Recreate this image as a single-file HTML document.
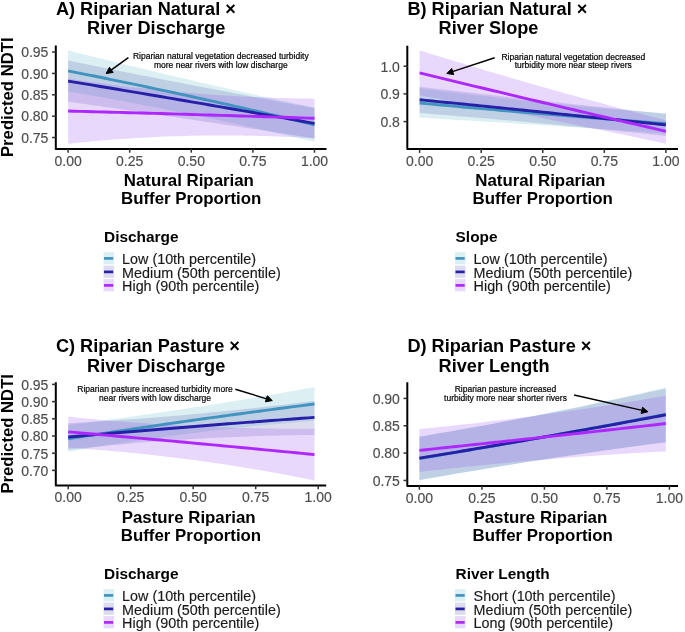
<!DOCTYPE html>
<html><head><meta charset="utf-8"><style>
html,body{margin:0;padding:0;background:#fff;}
svg{display:block;}
text{font-family:"Liberation Sans", Arial, Helvetica, sans-serif;}
.ti{font-size:18.15px;font-weight:bold;fill:#000;}
.xt{font-size:16.85px;font-weight:bold;fill:#000;}
.yt{font-size:16.7px;font-weight:bold;fill:#000;}
.tk{font-size:14px;fill:#4D4D4D;stroke:#4D4D4D;stroke-width:0.15px;}
.an{font-size:8.5px;fill:#000;stroke:#000;stroke-width:0.2px;}
.lt{font-size:15.4px;font-weight:bold;fill:#000;}
.ll{font-size:14.35px;fill:#1A1A1A;stroke:#1A1A1A;stroke-width:0.15px;}
</style></head><body>
<svg width="685" height="632" viewBox="0 0 685 632">
<rect width="685" height="632" fill="#fff"/>
<path d="M68.1 50.35 L74.26 51.91 L80.42 53.46 L86.58 55 L92.74 56.54 L98.9 58.07 L105.06 59.6 L111.22 61.11 L117.38 62.63 L123.54 64.13 L129.7 65.63 L135.86 67.12 L142.02 68.61 L148.18 70.09 L154.34 71.56 L160.5 73.03 L166.66 74.49 L172.82 75.94 L178.98 77.39 L185.14 78.83 L191.3 80.27 L197.46 81.7 L203.62 83.12 L209.78 84.53 L215.94 85.94 L222.1 87.35 L228.26 88.74 L234.42 90.13 L240.58 91.52 L246.74 92.89 L252.9 94.27 L259.06 95.63 L265.22 96.99 L271.38 98.34 L277.54 99.69 L283.7 101.02 L289.86 102.36 L296.02 103.68 L302.18 105 L308.34 106.32 L314.5 107.62 L314.5 141.81 L308.34 140.34 L302.18 138.89 L296.02 137.44 L289.86 136 L283.7 134.57 L277.54 133.16 L271.38 131.75 L265.22 130.36 L259.06 128.98 L252.9 127.6 L246.74 126.24 L240.58 124.89 L234.42 123.55 L228.26 122.22 L222.1 120.9 L215.94 119.59 L209.78 118.29 L203.62 117 L197.46 115.73 L191.3 114.46 L185.14 113.2 L178.98 111.96 L172.82 110.73 L166.66 109.5 L160.5 108.29 L154.34 107.09 L148.18 105.9 L142.02 104.72 L135.86 103.55 L129.7 102.39 L123.54 101.24 L117.38 100.1 L111.22 98.97 L105.06 97.86 L98.9 96.75 L92.74 95.65 L86.58 94.57 L80.42 93.5 L74.26 92.43 L68.1 91.38Z" fill="rgb(80,180,195)" fill-opacity="0.2"/>
<path d="M68.1 60.61 L74.26 61.86 L80.42 63.1 L86.58 64.34 L92.74 65.58 L98.9 66.82 L105.06 68.05 L111.22 69.28 L117.38 70.51 L123.54 71.73 L129.7 72.95 L135.86 74.17 L142.02 75.38 L148.18 76.59 L154.34 77.8 L160.5 79 L166.66 80.2 L172.82 81.4 L178.98 82.59 L185.14 83.78 L191.3 84.97 L197.46 86.15 L203.62 87.34 L209.78 88.51 L215.94 89.69 L222.1 90.86 L228.26 92.03 L234.42 93.19 L240.58 94.36 L246.74 95.51 L252.9 96.67 L259.06 97.82 L265.22 98.97 L271.38 100.12 L277.54 101.26 L283.7 102.4 L289.86 103.54 L296.02 104.67 L302.18 105.8 L308.34 106.93 L314.5 108.05 L314.5 138.39 L308.34 137.43 L302.18 136.48 L296.02 135.52 L289.86 134.57 L283.7 133.61 L277.54 132.66 L271.38 131.72 L265.22 130.77 L259.06 129.83 L252.9 128.89 L246.74 127.95 L240.58 127.01 L234.42 126.07 L228.26 125.14 L222.1 124.21 L215.94 123.28 L209.78 122.36 L203.62 121.43 L197.46 120.51 L191.3 119.59 L185.14 118.67 L178.98 117.76 L172.82 116.84 L166.66 115.93 L160.5 115.02 L154.34 114.11 L148.18 113.21 L142.02 112.31 L135.86 111.41 L129.7 110.51 L123.54 109.61 L117.38 108.72 L111.22 107.82 L105.06 106.93 L98.9 106.05 L92.74 105.16 L86.58 104.28 L80.42 103.4 L74.26 102.52 L68.1 101.64Z" fill="rgb(80,80,168)" fill-opacity="0.2"/>
<path d="M68.1 78.56 L74.26 79.5 L80.42 80.42 L86.58 81.31 L92.74 82.18 L98.9 83.03 L105.06 83.86 L111.22 84.67 L117.38 85.45 L123.54 86.21 L129.7 86.95 L135.86 87.66 L142.02 88.35 L148.18 89.03 L154.34 89.67 L160.5 90.3 L166.66 90.9 L172.82 91.48 L178.98 92.04 L185.14 92.58 L191.3 93.09 L197.46 93.58 L203.62 94.05 L209.78 94.5 L215.94 94.92 L222.1 95.32 L228.26 95.7 L234.42 96.06 L240.58 96.39 L246.74 96.7 L252.9 96.99 L259.06 97.26 L265.22 97.5 L271.38 97.72 L277.54 97.92 L283.7 98.1 L289.86 98.25 L296.02 98.39 L302.18 98.49 L308.34 98.58 L314.5 98.65 L314.5 138.39 L308.34 138.02 L302.18 137.67 L296.02 137.34 L289.86 137.04 L283.7 136.77 L277.54 136.52 L271.38 136.3 L265.22 136.11 L259.06 135.94 L252.9 135.8 L246.74 135.68 L240.58 135.59 L234.42 135.53 L228.26 135.5 L222.1 135.49 L215.94 135.5 L209.78 135.54 L203.62 135.61 L197.46 135.71 L191.3 135.83 L185.14 135.98 L178.98 136.15 L172.82 136.35 L166.66 136.58 L160.5 136.83 L154.34 137.11 L148.18 137.42 L142.02 137.75 L135.86 138.11 L129.7 138.49 L123.54 138.9 L117.38 139.34 L111.22 139.8 L105.06 140.29 L98.9 140.81 L92.74 141.35 L86.58 141.92 L80.42 142.51 L74.26 143.13 L68.1 143.78Z" fill="rgb(140,65,240)" fill-opacity="0.2"/>
<path d="M68.1 70.87 L74.26 72.09 L80.42 73.31 L86.58 74.55 L92.74 75.79 L98.9 77.04 L105.06 78.29 L111.22 79.55 L117.38 80.82 L123.54 82.09 L129.7 83.37 L135.86 84.65 L142.02 85.94 L148.18 87.24 L154.34 88.55 L160.5 89.86 L166.66 91.18 L172.82 92.5 L178.98 93.83 L185.14 95.17 L191.3 96.51 L197.46 97.86 L203.62 99.22 L209.78 100.58 L215.94 101.95 L222.1 103.32 L228.26 104.7 L234.42 106.09 L240.58 107.49 L246.74 108.89 L252.9 110.29 L259.06 111.71 L265.22 113.13 L271.38 114.55 L277.54 115.99 L283.7 117.43 L289.86 118.87 L296.02 120.32 L302.18 121.78 L308.34 123.25 L314.5 124.72" fill="none" stroke="#4094BF" stroke-width="2.9" stroke-linecap="butt"/>
<path d="M68.1 81.12 L74.26 82.14 L80.42 83.15 L86.58 84.17 L92.74 85.19 L98.9 86.21 L105.06 87.23 L111.22 88.26 L117.38 89.28 L123.54 90.32 L129.7 91.35 L135.86 92.38 L142.02 93.42 L148.18 94.46 L154.34 95.5 L160.5 96.55 L166.66 97.6 L172.82 98.65 L178.98 99.7 L185.14 100.75 L191.3 101.81 L197.46 102.87 L203.62 103.93 L209.78 104.99 L215.94 106.06 L222.1 107.13 L228.26 108.2 L234.42 109.27 L240.58 110.35 L246.74 111.42 L252.9 112.51 L259.06 113.59 L265.22 114.67 L271.38 115.76 L277.54 116.85 L283.7 117.94 L289.86 119.04 L296.02 120.13 L302.18 121.23 L308.34 122.33 L314.5 123.44" fill="none" stroke="#2620A8" stroke-width="2.9" stroke-linecap="butt"/>
<path d="M68.1 111.04 L74.26 111.2 L80.42 111.36 L86.58 111.53 L92.74 111.69 L98.9 111.86 L105.06 112.02 L111.22 112.19 L117.38 112.36 L123.54 112.53 L129.7 112.7 L135.86 112.87 L142.02 113.04 L148.18 113.22 L154.34 113.39 L160.5 113.57 L166.66 113.74 L172.82 113.92 L178.98 114.1 L185.14 114.28 L191.3 114.46 L197.46 114.64 L203.62 114.83 L209.78 115.01 L215.94 115.2 L222.1 115.38 L228.26 115.57 L234.42 115.76 L240.58 115.95 L246.74 116.14 L252.9 116.33 L259.06 116.52 L265.22 116.72 L271.38 116.91 L277.54 117.11 L283.7 117.31 L289.86 117.5 L296.02 117.7 L302.18 117.9 L308.34 118.1 L314.5 118.31" fill="none" stroke="#AE27FF" stroke-width="2.9" stroke-linecap="butt"/>
<path d="M55.8 45.5 V148.9 H326.5" fill="none" stroke="#000" stroke-width="2" stroke-linejoin="round" stroke-linecap="butt"/>
<line x1="52" y1="137.54" x2="55.8" y2="137.54" stroke="#333" stroke-width="1.5"/>
<text x="48.4" y="142.84" class="tk" text-anchor="end">0.75</text>
<line x1="52" y1="116.17" x2="55.8" y2="116.17" stroke="#333" stroke-width="1.5"/>
<text x="48.4" y="121.47" class="tk" text-anchor="end">0.80</text>
<line x1="52" y1="94.8" x2="55.8" y2="94.8" stroke="#333" stroke-width="1.5"/>
<text x="48.4" y="100.1" class="tk" text-anchor="end">0.85</text>
<line x1="52" y1="73.43" x2="55.8" y2="73.43" stroke="#333" stroke-width="1.5"/>
<text x="48.4" y="78.73" class="tk" text-anchor="end">0.90</text>
<line x1="52" y1="52.06" x2="55.8" y2="52.06" stroke="#333" stroke-width="1.5"/>
<text x="48.4" y="57.36" class="tk" text-anchor="end">0.95</text>
<line x1="68.1" y1="148.9" x2="68.1" y2="152.7" stroke="#333" stroke-width="1.5"/>
<text x="68.1" y="165.8" class="tk" text-anchor="middle">0.00</text>
<line x1="129.7" y1="148.9" x2="129.7" y2="152.7" stroke="#333" stroke-width="1.5"/>
<text x="129.7" y="165.8" class="tk" text-anchor="middle">0.25</text>
<line x1="191.3" y1="148.9" x2="191.3" y2="152.7" stroke="#333" stroke-width="1.5"/>
<text x="191.3" y="165.8" class="tk" text-anchor="middle">0.50</text>
<line x1="252.9" y1="148.9" x2="252.9" y2="152.7" stroke="#333" stroke-width="1.5"/>
<text x="252.9" y="165.8" class="tk" text-anchor="middle">0.75</text>
<line x1="314.5" y1="148.9" x2="314.5" y2="152.7" stroke="#333" stroke-width="1.5"/>
<text x="314.5" y="165.8" class="tk" text-anchor="middle">1.00</text>
<text class="yt" transform="translate(13.3 97.2) rotate(-90)" text-anchor="middle">Predicted NDTI</text>
<text class="xt" x="188.85" y="185.5" text-anchor="middle">Natural Riparian</text>
<text class="xt" x="191.15" y="203.6" text-anchor="middle">Buffer Proportion</text>
<text class="ti" x="55.9" y="14.6">A) Riparian Natural ×</text>
<text class="ti" x="87.1" y="34">River Discharge</text>
<text class="an" x="220.8" y="59.1" text-anchor="middle">Riparian natural vegetation decreased turbidity</text>
<text class="an" x="220.8" y="67.9" text-anchor="middle">more near rivers with low discharge</text>
<line x1="128.4" y1="57.6" x2="111.04" y2="70.04" stroke="#000" stroke-width="1.5"/>
<path d="M106.2 73.5 L109.42 67.28 L113.12 72.45 Z" fill="#000" stroke="#000" stroke-width="1" stroke-linejoin="miter"/>
<text class="lt" x="104.1" y="242.1">Discharge</text>
<rect x="103.5" y="252.1" width="10.5" height="12.2" fill="rgb(80,180,195)" fill-opacity="0.2"/>
<line x1="104" y1="258.4" x2="113.2" y2="258.4" stroke="#4094BF" stroke-width="2.7"/>
<text class="ll" x="122.1" y="264.2">Low (10th percentile)</text>
<rect x="103.5" y="265.6" width="10.5" height="12.2" fill="rgb(80,80,168)" fill-opacity="0.2"/>
<line x1="104" y1="271.9" x2="113.2" y2="271.9" stroke="#2620A8" stroke-width="2.7"/>
<text class="ll" x="122.1" y="277.55">Medium (50th percentile)</text>
<rect x="103.5" y="279.1" width="10.5" height="12.2" fill="rgb(140,65,240)" fill-opacity="0.2"/>
<line x1="104" y1="285.4" x2="113.2" y2="285.4" stroke="#AE27FF" stroke-width="2.7"/>
<text class="ll" x="122.1" y="290.9">High (90th percentile)</text>
<path d="M419.6 88.36 L425.76 89.14 L431.92 89.91 L438.07 90.67 L444.23 91.43 L450.39 92.18 L456.55 92.92 L462.7 93.65 L468.86 94.38 L475.02 95.09 L481.18 95.8 L487.33 96.51 L493.49 97.2 L499.65 97.89 L505.81 98.57 L511.96 99.24 L518.12 99.91 L524.28 100.56 L530.44 101.21 L536.59 101.85 L542.75 102.49 L548.91 103.11 L555.07 103.73 L561.22 104.34 L567.38 104.95 L573.54 105.54 L579.7 106.13 L585.85 106.71 L592.01 107.28 L598.17 107.85 L604.33 108.41 L610.48 108.96 L616.64 109.5 L622.8 110.04 L628.96 110.56 L635.11 111.08 L641.27 111.59 L647.43 112.1 L653.59 112.6 L659.74 113.09 L665.9 113.57 L665.9 133.51 L659.74 133.08 L653.59 132.64 L647.43 132.21 L641.27 131.78 L635.11 131.36 L628.96 130.93 L622.8 130.51 L616.64 130.09 L610.48 129.67 L604.33 129.25 L598.17 128.84 L592.01 128.43 L585.85 128.01 L579.7 127.61 L573.54 127.2 L567.38 126.8 L561.22 126.39 L555.07 125.99 L548.91 125.6 L542.75 125.2 L536.59 124.81 L530.44 124.42 L524.28 124.03 L518.12 123.64 L511.96 123.25 L505.81 122.87 L499.65 122.49 L493.49 122.11 L487.33 121.73 L481.18 121.36 L475.02 120.98 L468.86 120.61 L462.7 120.25 L456.55 119.88 L450.39 119.51 L444.23 119.15 L438.07 118.79 L431.92 118.43 L425.76 118.08 L419.6 117.72Z" fill="rgb(80,180,195)" fill-opacity="0.2"/>
<path d="M419.6 86.7 L425.76 87.43 L431.92 88.16 L438.07 88.89 L444.23 89.61 L450.39 90.33 L456.55 91.05 L462.7 91.77 L468.86 92.48 L475.02 93.19 L481.18 93.9 L487.33 94.6 L493.49 95.31 L499.65 96.01 L505.81 96.7 L511.96 97.4 L518.12 98.09 L524.28 98.78 L530.44 99.46 L536.59 100.14 L542.75 100.83 L548.91 101.5 L555.07 102.18 L561.22 102.85 L567.38 103.52 L573.54 104.18 L579.7 104.85 L585.85 105.51 L592.01 106.17 L598.17 106.82 L604.33 107.47 L610.48 108.12 L616.64 108.77 L622.8 109.41 L628.96 110.05 L635.11 110.69 L641.27 111.33 L647.43 111.96 L653.59 112.59 L659.74 113.22 L665.9 113.84 L665.9 136 L659.74 135.33 L653.59 134.67 L647.43 134.01 L641.27 133.36 L635.11 132.71 L628.96 132.06 L622.8 131.42 L616.64 130.79 L610.48 130.15 L604.33 129.53 L598.17 128.91 L592.01 128.29 L585.85 127.68 L579.7 127.07 L573.54 126.47 L567.38 125.88 L561.22 125.29 L555.07 124.7 L548.91 124.12 L542.75 123.54 L536.59 122.97 L530.44 122.4 L524.28 121.84 L518.12 121.28 L511.96 120.73 L505.81 120.18 L499.65 119.63 L493.49 119.1 L487.33 118.56 L481.18 118.03 L475.02 117.51 L468.86 116.99 L462.7 116.48 L456.55 115.97 L450.39 115.46 L444.23 114.96 L438.07 114.47 L431.92 113.98 L425.76 113.49 L419.6 113.01Z" fill="rgb(80,80,168)" fill-opacity="0.2"/>
<path d="M419.6 50.41 L425.76 52.32 L431.92 54.22 L438.07 56.11 L444.23 57.99 L450.39 59.86 L456.55 61.73 L462.7 63.59 L468.86 65.44 L475.02 67.28 L481.18 69.11 L487.33 70.93 L493.49 72.75 L499.65 74.56 L505.81 76.35 L511.96 78.15 L518.12 79.93 L524.28 81.7 L530.44 83.47 L536.59 85.23 L542.75 86.97 L548.91 88.72 L555.07 90.45 L561.22 92.17 L567.38 93.89 L573.54 95.6 L579.7 97.3 L585.85 98.99 L592.01 100.67 L598.17 102.34 L604.33 104.01 L610.48 105.67 L616.64 107.32 L622.8 108.96 L628.96 110.59 L635.11 112.22 L641.27 113.83 L647.43 115.44 L653.59 117.04 L659.74 118.63 L665.9 120.21 L665.9 143.76 L659.74 142.43 L653.59 141.1 L647.43 139.78 L641.27 138.46 L635.11 137.16 L628.96 135.85 L622.8 134.56 L616.64 133.27 L610.48 131.98 L604.33 130.71 L598.17 129.44 L592.01 128.17 L585.85 126.91 L579.7 125.66 L573.54 124.41 L567.38 123.17 L561.22 121.94 L555.07 120.71 L548.91 119.49 L542.75 118.28 L536.59 117.07 L530.44 115.86 L524.28 114.67 L518.12 113.48 L511.96 112.29 L505.81 111.12 L499.65 109.95 L493.49 108.78 L487.33 107.62 L481.18 106.47 L475.02 105.32 L468.86 104.18 L462.7 103.05 L456.55 101.92 L450.39 100.8 L444.23 99.68 L438.07 98.57 L431.92 97.47 L425.76 96.38 L419.6 95.28Z" fill="rgb(140,65,240)" fill-opacity="0.2"/>
<path d="M419.6 103.04 L425.76 103.61 L431.92 104.17 L438.07 104.73 L444.23 105.29 L450.39 105.85 L456.55 106.4 L462.7 106.95 L468.86 107.5 L475.02 108.04 L481.18 108.58 L487.33 109.12 L493.49 109.66 L499.65 110.19 L505.81 110.72 L511.96 111.25 L518.12 111.77 L524.28 112.29 L530.44 112.81 L536.59 113.33 L542.75 113.84 L548.91 114.36 L555.07 114.86 L561.22 115.37 L567.38 115.87 L573.54 116.37 L579.7 116.87 L585.85 117.36 L592.01 117.85 L598.17 118.34 L604.33 118.83 L610.48 119.31 L616.64 119.79 L622.8 120.27 L628.96 120.75 L635.11 121.22 L641.27 121.69 L647.43 122.16 L653.59 122.62 L659.74 123.08 L665.9 123.54" fill="none" stroke="#4094BF" stroke-width="2.9" stroke-linecap="butt"/>
<path d="M419.6 99.72 L425.76 100.33 L431.92 100.95 L438.07 101.57 L444.23 102.19 L450.39 102.81 L456.55 103.43 L462.7 104.05 L468.86 104.67 L475.02 105.29 L481.18 105.91 L487.33 106.54 L493.49 107.16 L499.65 107.79 L505.81 108.41 L511.96 109.04 L518.12 109.67 L524.28 110.29 L530.44 110.92 L536.59 111.55 L542.75 112.18 L548.91 112.81 L555.07 113.44 L561.22 114.08 L567.38 114.71 L573.54 115.34 L579.7 115.98 L585.85 116.61 L592.01 117.25 L598.17 117.88 L604.33 118.52 L610.48 119.16 L616.64 119.79 L622.8 120.43 L628.96 121.07 L635.11 121.71 L641.27 122.35 L647.43 123 L653.59 123.64 L659.74 124.28 L665.9 124.92" fill="none" stroke="#2620A8" stroke-width="2.9" stroke-linecap="butt"/>
<path d="M419.6 72.85 L425.76 74.35 L431.92 75.85 L438.07 77.35 L444.23 78.84 L450.39 80.34 L456.55 81.83 L462.7 83.32 L468.86 84.8 L475.02 86.29 L481.18 87.77 L487.33 89.25 L493.49 90.73 L499.65 92.21 L505.81 93.68 L511.96 95.16 L518.12 96.63 L524.28 98.09 L530.44 99.56 L536.59 101.02 L542.75 102.49 L548.91 103.95 L555.07 105.41 L561.22 106.86 L567.38 108.32 L573.54 109.77 L579.7 111.22 L585.85 112.66 L592.01 114.11 L598.17 115.55 L604.33 116.99 L610.48 118.43 L616.64 119.87 L622.8 121.31 L628.96 122.74 L635.11 124.17 L641.27 125.6 L647.43 127.03 L653.59 128.45 L659.74 129.87 L665.9 131.3" fill="none" stroke="#AE27FF" stroke-width="2.9" stroke-linecap="butt"/>
<path d="M407.3 45.7 V149.1 H678" fill="none" stroke="#000" stroke-width="2" stroke-linejoin="round" stroke-linecap="butt"/>
<line x1="403.5" y1="121.6" x2="407.3" y2="121.6" stroke="#333" stroke-width="1.5"/>
<text x="399.9" y="126.9" class="tk" text-anchor="end">0.8</text>
<line x1="403.5" y1="93.9" x2="407.3" y2="93.9" stroke="#333" stroke-width="1.5"/>
<text x="399.9" y="99.2" class="tk" text-anchor="end">0.9</text>
<line x1="403.5" y1="66.2" x2="407.3" y2="66.2" stroke="#333" stroke-width="1.5"/>
<text x="399.9" y="71.5" class="tk" text-anchor="end">1.0</text>
<line x1="419.6" y1="149.1" x2="419.6" y2="152.9" stroke="#333" stroke-width="1.5"/>
<text x="419.6" y="166" class="tk" text-anchor="middle">0.00</text>
<line x1="481.18" y1="149.1" x2="481.18" y2="152.9" stroke="#333" stroke-width="1.5"/>
<text x="481.18" y="166" class="tk" text-anchor="middle">0.25</text>
<line x1="542.75" y1="149.1" x2="542.75" y2="152.9" stroke="#333" stroke-width="1.5"/>
<text x="542.75" y="166" class="tk" text-anchor="middle">0.50</text>
<line x1="604.33" y1="149.1" x2="604.33" y2="152.9" stroke="#333" stroke-width="1.5"/>
<text x="604.33" y="166" class="tk" text-anchor="middle">0.75</text>
<line x1="665.9" y1="149.1" x2="665.9" y2="152.9" stroke="#333" stroke-width="1.5"/>
<text x="665.9" y="166" class="tk" text-anchor="middle">1.00</text>
<text class="xt" x="540.35" y="185.5" text-anchor="middle">Natural Riparian</text>
<text class="xt" x="542.65" y="203.6" text-anchor="middle">Buffer Proportion</text>
<text class="ti" x="407.4" y="14.6">B) Riparian Natural ×</text>
<text class="ti" x="438.6" y="34">River Slope</text>
<text class="an" x="573.3" y="59.6" text-anchor="middle">Riparian natural vegetation decreased</text>
<text class="an" x="573.3" y="68.4" text-anchor="middle">turbidity more near steep rivers</text>
<line x1="494.7" y1="57.7" x2="452.45" y2="71.64" stroke="#000" stroke-width="1.5"/>
<path d="M446.8 73.5 L451.73 68.53 L453.72 74.56 Z" fill="#000" stroke="#000" stroke-width="1" stroke-linejoin="miter"/>
<text class="lt" x="455.6" y="242.1">Slope</text>
<rect x="455" y="252.1" width="10.5" height="12.2" fill="rgb(80,180,195)" fill-opacity="0.2"/>
<line x1="455.5" y1="258.4" x2="464.7" y2="258.4" stroke="#4094BF" stroke-width="2.7"/>
<text class="ll" x="473.6" y="264.2">Low (10th percentile)</text>
<rect x="455" y="265.6" width="10.5" height="12.2" fill="rgb(80,80,168)" fill-opacity="0.2"/>
<line x1="455.5" y1="271.9" x2="464.7" y2="271.9" stroke="#2620A8" stroke-width="2.7"/>
<text class="ll" x="473.6" y="277.55">Medium (50th percentile)</text>
<rect x="455" y="279.1" width="10.5" height="12.2" fill="rgb(140,65,240)" fill-opacity="0.2"/>
<line x1="455.5" y1="285.4" x2="464.7" y2="285.4" stroke="#AE27FF" stroke-width="2.7"/>
<text class="ll" x="473.6" y="290.9">High (90th percentile)</text>
<path d="M68.2 424.99 L74.36 424.21 L80.51 423.43 L86.67 422.63 L92.83 421.83 L98.98 421.01 L105.14 420.19 L111.29 419.36 L117.45 418.52 L123.61 417.68 L129.76 416.82 L135.92 415.96 L142.07 415.08 L148.23 414.2 L154.39 413.31 L160.54 412.41 L166.7 411.51 L172.86 410.59 L179.01 409.67 L185.17 408.73 L191.32 407.79 L197.48 406.84 L203.64 405.88 L209.79 404.92 L215.95 403.94 L222.11 402.95 L228.26 401.96 L234.42 400.96 L240.57 399.95 L246.73 398.93 L252.89 397.9 L259.04 396.87 L265.2 395.82 L271.36 394.77 L277.51 393.71 L283.67 392.63 L289.82 391.56 L295.98 390.47 L302.14 389.37 L308.29 388.27 L314.45 387.15 L314.45 420.86 L308.29 421.34 L302.14 421.82 L295.98 422.33 L289.82 422.85 L283.67 423.38 L277.51 423.93 L271.36 424.49 L265.2 425.07 L259.04 425.67 L252.89 426.28 L246.73 426.91 L240.57 427.55 L234.42 428.21 L228.26 428.88 L222.11 429.57 L215.95 430.28 L209.79 431 L203.64 431.73 L197.48 432.48 L191.32 433.25 L185.17 434.03 L179.01 434.83 L172.86 435.64 L166.7 436.47 L160.54 437.31 L154.39 438.17 L148.23 439.05 L142.07 439.94 L135.92 440.84 L129.76 441.76 L123.61 442.7 L117.45 443.65 L111.29 444.62 L105.14 445.6 L98.98 446.6 L92.83 447.61 L86.67 448.64 L80.51 449.69 L74.36 450.75 L68.2 451.82Z" fill="rgb(80,180,195)" fill-opacity="0.2"/>
<path d="M68.2 423.27 L74.36 422.93 L80.51 422.58 L86.67 422.22 L92.83 421.84 L98.98 421.46 L105.14 421.06 L111.29 420.65 L117.45 420.23 L123.61 419.8 L129.76 419.36 L135.92 418.91 L142.07 418.44 L148.23 417.97 L154.39 417.48 L160.54 416.98 L166.7 416.47 L172.86 415.95 L179.01 415.42 L185.17 414.88 L191.32 414.33 L197.48 413.76 L203.64 413.19 L209.79 412.6 L215.95 412 L222.11 411.39 L228.26 410.77 L234.42 410.14 L240.57 409.5 L246.73 408.84 L252.89 408.18 L259.04 407.5 L265.2 406.82 L271.36 406.12 L277.51 405.41 L283.67 404.69 L289.82 403.95 L295.98 403.21 L302.14 402.45 L308.29 401.69 L314.45 400.91 L314.45 434.97 L308.29 435.02 L302.14 435.09 L295.98 435.17 L289.82 435.27 L283.67 435.39 L277.51 435.52 L271.36 435.67 L265.2 435.83 L259.04 436.02 L252.89 436.21 L246.73 436.43 L240.57 436.66 L234.42 436.91 L228.26 437.17 L222.11 437.45 L215.95 437.75 L209.79 438.06 L203.64 438.39 L197.48 438.73 L191.32 439.1 L185.17 439.47 L179.01 439.87 L172.86 440.28 L166.7 440.71 L160.54 441.15 L154.39 441.61 L148.23 442.08 L142.07 442.58 L135.92 443.09 L129.76 443.61 L123.61 444.15 L117.45 444.71 L111.29 445.28 L105.14 445.87 L98.98 446.48 L92.83 447.1 L86.67 447.74 L80.51 448.4 L74.36 449.07 L68.2 449.76Z" fill="rgb(80,80,168)" fill-opacity="0.2"/>
<path d="M68.2 416.74 L74.36 417.36 L80.51 417.96 L86.67 418.55 L92.83 419.12 L98.98 419.67 L105.14 420.21 L111.29 420.73 L117.45 421.24 L123.61 421.72 L129.76 422.2 L135.92 422.65 L142.07 423.09 L148.23 423.52 L154.39 423.92 L160.54 424.31 L166.7 424.69 L172.86 425.05 L179.01 425.39 L185.17 425.71 L191.32 426.02 L197.48 426.32 L203.64 426.59 L209.79 426.85 L215.95 427.1 L222.11 427.32 L228.26 427.54 L234.42 427.73 L240.57 427.91 L246.73 428.07 L252.89 428.22 L259.04 428.35 L265.2 428.46 L271.36 428.56 L277.51 428.64 L283.67 428.7 L289.82 428.75 L295.98 428.78 L302.14 428.79 L308.29 428.79 L314.45 428.78 L314.45 480.38 L308.29 479.14 L302.14 477.92 L295.98 476.73 L289.82 475.56 L283.67 474.41 L277.51 473.28 L271.36 472.17 L265.2 471.09 L259.04 470.02 L252.89 468.98 L246.73 467.96 L240.57 466.96 L234.42 465.98 L228.26 465.02 L222.11 464.09 L215.95 463.18 L209.79 462.28 L203.64 461.41 L197.48 460.56 L191.32 459.74 L185.17 458.93 L179.01 458.14 L172.86 457.38 L166.7 456.64 L160.54 455.92 L154.39 455.22 L148.23 454.54 L142.07 453.89 L135.92 453.25 L129.76 452.64 L123.61 452.05 L117.45 451.48 L111.29 450.93 L105.14 450.4 L98.98 449.9 L92.83 449.42 L86.67 448.95 L80.51 448.51 L74.36 448.09 L68.2 447.7Z" fill="rgb(140,65,240)" fill-opacity="0.2"/>
<path d="M68.2 438.75 L74.36 437.8 L80.51 436.85 L86.67 435.91 L92.83 434.97 L98.98 434.03 L105.14 433.1 L111.29 432.18 L117.45 431.25 L123.61 430.33 L129.76 429.42 L135.92 428.51 L142.07 427.61 L148.23 426.71 L154.39 425.81 L160.54 424.92 L166.7 424.03 L172.86 423.15 L179.01 422.27 L185.17 421.39 L191.32 420.52 L197.48 419.65 L203.64 418.79 L209.79 417.93 L215.95 417.08 L222.11 416.23 L228.26 415.39 L234.42 414.55 L240.57 413.71 L246.73 412.88 L252.89 412.05 L259.04 411.23 L265.2 410.41 L271.36 409.59 L277.51 408.78 L283.67 407.97 L289.82 407.17 L295.98 406.38 L302.14 405.58 L308.29 404.79 L314.45 404.01" fill="none" stroke="#4094BF" stroke-width="2.9" stroke-linecap="butt"/>
<path d="M68.2 437.03 L74.36 436.49 L80.51 435.95 L86.67 435.42 L92.83 434.89 L98.98 434.36 L105.14 433.83 L111.29 433.3 L117.45 432.78 L123.61 432.26 L129.76 431.74 L135.92 431.23 L142.07 430.72 L148.23 430.21 L154.39 429.7 L160.54 429.2 L166.7 428.69 L172.86 428.19 L179.01 427.7 L185.17 427.2 L191.32 426.71 L197.48 426.22 L203.64 425.74 L209.79 425.25 L215.95 424.77 L222.11 424.29 L228.26 423.82 L234.42 423.34 L240.57 422.87 L246.73 422.4 L252.89 421.94 L259.04 421.48 L265.2 421.02 L271.36 420.56 L277.51 420.1 L283.67 419.65 L289.82 419.2 L295.98 418.75 L302.14 418.31 L308.29 417.86 L314.45 417.42" fill="none" stroke="#2620A8" stroke-width="2.9" stroke-linecap="butt"/>
<path d="M68.2 431.87 L74.36 432.41 L80.51 432.94 L86.67 433.48 L92.83 434.02 L98.98 434.56 L105.14 435.1 L111.29 435.65 L117.45 436.19 L123.61 436.74 L129.76 437.29 L135.92 437.84 L142.07 438.39 L148.23 438.95 L154.39 439.51 L160.54 440.06 L166.7 440.62 L172.86 441.18 L179.01 441.75 L185.17 442.31 L191.32 442.88 L197.48 443.45 L203.64 444.02 L209.79 444.59 L215.95 445.16 L222.11 445.74 L228.26 446.32 L234.42 446.9 L240.57 447.48 L246.73 448.06 L252.89 448.64 L259.04 449.23 L265.2 449.82 L271.36 450.4 L277.51 450.99 L283.67 451.59 L289.82 452.18 L295.98 452.78 L302.14 453.38 L308.29 453.97 L314.45 454.58" fill="none" stroke="#AE27FF" stroke-width="2.9" stroke-linecap="butt"/>
<path d="M55.8 382.2 V485.4 H326.2" fill="none" stroke="#000" stroke-width="2" stroke-linejoin="round" stroke-linecap="butt"/>
<line x1="52" y1="470.4" x2="55.8" y2="470.4" stroke="#333" stroke-width="1.5"/>
<text x="48.4" y="475.7" class="tk" text-anchor="end">0.70</text>
<line x1="52" y1="453.2" x2="55.8" y2="453.2" stroke="#333" stroke-width="1.5"/>
<text x="48.4" y="458.5" class="tk" text-anchor="end">0.75</text>
<line x1="52" y1="436" x2="55.8" y2="436" stroke="#333" stroke-width="1.5"/>
<text x="48.4" y="441.3" class="tk" text-anchor="end">0.80</text>
<line x1="52" y1="418.8" x2="55.8" y2="418.8" stroke="#333" stroke-width="1.5"/>
<text x="48.4" y="424.1" class="tk" text-anchor="end">0.85</text>
<line x1="52" y1="401.6" x2="55.8" y2="401.6" stroke="#333" stroke-width="1.5"/>
<text x="48.4" y="406.9" class="tk" text-anchor="end">0.90</text>
<line x1="52" y1="384.4" x2="55.8" y2="384.4" stroke="#333" stroke-width="1.5"/>
<text x="48.4" y="389.7" class="tk" text-anchor="end">0.95</text>
<line x1="68.2" y1="485.4" x2="68.2" y2="489.2" stroke="#333" stroke-width="1.5"/>
<text x="68.2" y="502.3" class="tk" text-anchor="middle">0.00</text>
<line x1="130.7" y1="485.4" x2="130.7" y2="489.2" stroke="#333" stroke-width="1.5"/>
<text x="130.7" y="502.3" class="tk" text-anchor="middle">0.25</text>
<line x1="193.2" y1="485.4" x2="193.2" y2="489.2" stroke="#333" stroke-width="1.5"/>
<text x="193.2" y="502.3" class="tk" text-anchor="middle">0.50</text>
<line x1="255.7" y1="485.4" x2="255.7" y2="489.2" stroke="#333" stroke-width="1.5"/>
<text x="255.7" y="502.3" class="tk" text-anchor="middle">0.75</text>
<line x1="318.2" y1="485.4" x2="318.2" y2="489.2" stroke="#333" stroke-width="1.5"/>
<text x="318.2" y="502.3" class="tk" text-anchor="middle">1.00</text>
<text class="yt" transform="translate(13.3 433.8) rotate(-90)" text-anchor="middle">Predicted NDTI</text>
<text class="xt" x="188.7" y="522.5" text-anchor="middle">Pasture Riparian</text>
<text class="xt" x="191" y="540.6" text-anchor="middle">Buffer Proportion</text>
<text class="ti" x="55.9" y="352.3">C) Riparian Pasture ×</text>
<text class="ti" x="87.1" y="371.7">River Discharge</text>
<text class="an" x="155" y="391.7" text-anchor="middle">Riparian pasture increased turbidity more</text>
<text class="an" x="155" y="400.5" text-anchor="middle">near rivers with low discharge</text>
<line x1="235.3" y1="389.2" x2="266.61" y2="398.85" stroke="#000" stroke-width="1.5"/>
<path d="M272.3 400.6 L265.4 401.8 L267.28 395.73 Z" fill="#000" stroke="#000" stroke-width="1" stroke-linejoin="miter"/>
<text class="lt" x="104.1" y="579.1">Discharge</text>
<rect x="103.5" y="589.1" width="10.5" height="12.2" fill="rgb(80,180,195)" fill-opacity="0.2"/>
<line x1="104" y1="595.4" x2="113.2" y2="595.4" stroke="#4094BF" stroke-width="2.7"/>
<text class="ll" x="122.1" y="601.2">Low (10th percentile)</text>
<rect x="103.5" y="602.6" width="10.5" height="12.2" fill="rgb(80,80,168)" fill-opacity="0.2"/>
<line x1="104" y1="608.9" x2="113.2" y2="608.9" stroke="#2620A8" stroke-width="2.7"/>
<text class="ll" x="122.1" y="614.55">Medium (50th percentile)</text>
<rect x="103.5" y="616.1" width="10.5" height="12.2" fill="rgb(140,65,240)" fill-opacity="0.2"/>
<line x1="104" y1="622.4" x2="113.2" y2="622.4" stroke="#AE27FF" stroke-width="2.7"/>
<text class="ll" x="122.1" y="627.9">High (90th percentile)</text>
<path d="M419.4 436.69 L425.56 435.67 L431.72 434.64 L437.88 433.6 L444.04 432.55 L450.2 431.49 L456.36 430.42 L462.52 429.34 L468.68 428.24 L474.84 427.14 L481 426.02 L487.16 424.9 L493.32 423.76 L499.48 422.61 L505.64 421.45 L511.8 420.28 L517.96 419.1 L524.12 417.91 L530.28 416.7 L536.44 415.49 L542.6 414.26 L548.76 413.03 L554.92 411.78 L561.08 410.52 L567.24 409.25 L573.4 407.97 L579.56 406.68 L585.72 405.38 L591.88 404.07 L598.04 402.74 L604.2 401.41 L610.36 400.06 L616.52 398.71 L622.68 397.34 L628.84 395.96 L635 394.57 L641.16 393.17 L647.32 391.76 L653.48 390.34 L659.64 388.9 L665.8 387.46 L665.8 442.16 L659.64 442.96 L653.48 443.76 L647.32 444.58 L641.16 445.4 L635 446.23 L628.84 447.07 L622.68 447.91 L616.52 448.77 L610.36 449.63 L604.2 450.5 L598.04 451.38 L591.88 452.27 L585.72 453.16 L579.56 454.07 L573.4 454.98 L567.24 455.9 L561.08 456.83 L554.92 457.77 L548.76 458.71 L542.6 459.66 L536.44 460.63 L530.28 461.59 L524.12 462.57 L517.96 463.56 L511.8 464.55 L505.64 465.56 L499.48 466.57 L493.32 467.58 L487.16 468.61 L481 469.65 L474.84 470.69 L468.68 471.74 L462.52 472.8 L456.36 473.87 L450.2 474.95 L444.04 476.03 L437.88 477.12 L431.72 478.22 L425.56 479.33 L419.4 480.45Z" fill="rgb(80,180,195)" fill-opacity="0.2"/>
<path d="M419.4 436.69 L425.56 435.65 L431.72 434.59 L437.88 433.54 L444.04 432.47 L450.2 431.39 L456.36 430.31 L462.52 429.21 L468.68 428.11 L474.84 427 L481 425.89 L487.16 424.76 L493.32 423.63 L499.48 422.49 L505.64 421.34 L511.8 420.18 L517.96 419.01 L524.12 417.84 L530.28 416.65 L536.44 415.46 L542.6 414.26 L548.76 413.06 L554.92 411.84 L561.08 410.62 L567.24 409.38 L573.4 408.14 L579.56 406.89 L585.72 405.64 L591.88 404.37 L598.04 403.1 L604.2 401.82 L610.36 400.53 L616.52 399.23 L622.68 397.93 L628.84 396.61 L635 395.29 L641.16 393.96 L647.32 392.62 L653.48 391.27 L659.64 389.92 L665.8 388.55 L665.8 442.16 L659.64 442.97 L653.48 443.79 L647.32 444.61 L641.16 445.44 L635 446.28 L628.84 447.12 L622.68 447.98 L616.52 448.83 L610.36 449.7 L604.2 450.57 L598.04 451.45 L591.88 452.33 L585.72 453.23 L579.56 454.13 L573.4 455.03 L567.24 455.94 L561.08 456.86 L554.92 457.79 L548.76 458.72 L542.6 459.66 L536.44 460.61 L530.28 461.56 L524.12 462.53 L517.96 463.49 L511.8 464.47 L505.64 465.45 L499.48 466.44 L493.32 467.43 L487.16 468.43 L481 469.44 L474.84 470.46 L468.68 471.48 L462.52 472.51 L456.36 473.54 L450.2 474.59 L444.04 475.64 L437.88 476.69 L431.72 477.76 L425.56 478.83 L419.4 479.9Z" fill="rgb(80,80,168)" fill-opacity="0.2"/>
<path d="M419.4 429.03 L425.56 428.44 L431.72 427.83 L437.88 427.21 L444.04 426.58 L450.2 425.94 L456.36 425.28 L462.52 424.61 L468.68 423.93 L474.84 423.24 L481 422.54 L487.16 421.82 L493.32 421.09 L499.48 420.35 L505.64 419.59 L511.8 418.83 L517.96 418.05 L524.12 417.26 L530.28 416.45 L536.44 415.64 L542.6 414.81 L548.76 413.97 L554.92 413.12 L561.08 412.25 L567.24 411.37 L573.4 410.49 L579.56 409.58 L585.72 408.67 L591.88 407.74 L598.04 406.8 L604.2 405.85 L610.36 404.89 L616.52 403.91 L622.68 402.93 L628.84 401.93 L635 400.91 L641.16 399.89 L647.32 398.85 L653.48 397.8 L659.64 396.74 L665.8 395.66 L665.8 451.46 L659.64 451.77 L653.48 452.09 L647.32 452.42 L641.16 452.77 L635 453.12 L628.84 453.48 L622.68 453.86 L616.52 454.24 L610.36 454.64 L604.2 455.04 L598.04 455.46 L591.88 455.88 L585.72 456.32 L579.56 456.77 L573.4 457.22 L567.24 457.69 L561.08 458.17 L554.92 458.66 L548.76 459.16 L542.6 459.66 L536.44 460.18 L530.28 460.71 L524.12 461.25 L517.96 461.8 L511.8 462.36 L505.64 462.94 L499.48 463.52 L493.32 464.11 L487.16 464.71 L481 465.33 L474.84 465.95 L468.68 466.58 L462.52 467.23 L456.36 467.88 L450.2 468.55 L444.04 469.22 L437.88 469.91 L431.72 470.6 L425.56 471.31 L419.4 472.03Z" fill="rgb(140,65,240)" fill-opacity="0.2"/>
<path d="M419.4 458.57 L425.56 457.54 L431.72 456.51 L437.88 455.47 L444.04 454.43 L450.2 453.39 L456.36 452.34 L462.52 451.29 L468.68 450.23 L474.84 449.17 L481 448.11 L487.16 447.04 L493.32 445.97 L499.48 444.89 L505.64 443.81 L511.8 442.72 L517.96 441.63 L524.12 440.54 L530.28 439.44 L536.44 438.34 L542.6 437.24 L548.76 436.13 L554.92 435.01 L561.08 433.9 L567.24 432.77 L573.4 431.65 L579.56 430.52 L585.72 429.38 L591.88 428.24 L598.04 427.1 L604.2 425.96 L610.36 424.8 L616.52 423.65 L622.68 422.49 L628.84 421.33 L635 420.16 L641.16 418.99 L647.32 417.81 L653.48 416.63 L659.64 415.45 L665.8 414.26" fill="none" stroke="#4094BF" stroke-width="2.9" stroke-linecap="butt"/>
<path d="M419.4 458.19 L425.56 457.17 L431.72 456.16 L437.88 455.14 L444.04 454.12 L450.2 453.09 L456.36 452.06 L462.52 451.02 L468.68 449.98 L474.84 448.94 L481 447.9 L487.16 446.85 L493.32 445.79 L499.48 444.74 L505.64 443.68 L511.8 442.61 L517.96 441.55 L524.12 440.47 L530.28 439.4 L536.44 438.32 L542.6 437.24 L548.76 436.15 L554.92 435.06 L561.08 433.97 L567.24 432.87 L573.4 431.77 L579.56 430.66 L585.72 429.56 L591.88 428.44 L598.04 427.33 L604.2 426.21 L610.36 425.08 L616.52 423.96 L622.68 422.83 L628.84 421.69 L635 420.56 L641.16 419.41 L647.32 418.27 L653.48 417.12 L659.64 415.97 L665.8 414.81" fill="none" stroke="#2620A8" stroke-width="2.9" stroke-linecap="butt"/>
<path d="M419.4 450.36 L425.56 449.72 L431.72 449.08 L437.88 448.43 L444.04 447.78 L450.2 447.13 L456.36 446.48 L462.52 445.83 L468.68 445.18 L474.84 444.53 L481 443.87 L487.16 443.21 L493.32 442.55 L499.48 441.89 L505.64 441.23 L511.8 440.57 L517.96 439.91 L524.12 439.24 L530.28 438.57 L536.44 437.91 L542.6 437.24 L548.76 436.57 L554.92 435.89 L561.08 435.22 L567.24 434.55 L573.4 433.87 L579.56 433.19 L585.72 432.51 L591.88 431.83 L598.04 431.15 L604.2 430.47 L610.36 429.78 L616.52 429.1 L622.68 428.41 L628.84 427.72 L635 427.03 L641.16 426.34 L647.32 425.65 L653.48 424.95 L659.64 424.26 L665.8 423.56" fill="none" stroke="#AE27FF" stroke-width="2.9" stroke-linecap="butt"/>
<path d="M407.3 382.3 V485.9 H678" fill="none" stroke="#000" stroke-width="2" stroke-linejoin="round" stroke-linecap="butt"/>
<line x1="403.5" y1="480.45" x2="407.3" y2="480.45" stroke="#333" stroke-width="1.5"/>
<text x="399.9" y="485.75" class="tk" text-anchor="end">0.75</text>
<line x1="403.5" y1="453.1" x2="407.3" y2="453.1" stroke="#333" stroke-width="1.5"/>
<text x="399.9" y="458.4" class="tk" text-anchor="end">0.80</text>
<line x1="403.5" y1="425.75" x2="407.3" y2="425.75" stroke="#333" stroke-width="1.5"/>
<text x="399.9" y="431.05" class="tk" text-anchor="end">0.85</text>
<line x1="403.5" y1="398.4" x2="407.3" y2="398.4" stroke="#333" stroke-width="1.5"/>
<text x="399.9" y="403.7" class="tk" text-anchor="end">0.90</text>
<line x1="419.4" y1="485.9" x2="419.4" y2="489.7" stroke="#333" stroke-width="1.5"/>
<text x="419.4" y="502.8" class="tk" text-anchor="middle">0.00</text>
<line x1="481.9" y1="485.9" x2="481.9" y2="489.7" stroke="#333" stroke-width="1.5"/>
<text x="481.9" y="502.8" class="tk" text-anchor="middle">0.25</text>
<line x1="544.4" y1="485.9" x2="544.4" y2="489.7" stroke="#333" stroke-width="1.5"/>
<text x="544.4" y="502.8" class="tk" text-anchor="middle">0.50</text>
<line x1="606.9" y1="485.9" x2="606.9" y2="489.7" stroke="#333" stroke-width="1.5"/>
<text x="606.9" y="502.8" class="tk" text-anchor="middle">0.75</text>
<line x1="669.4" y1="485.9" x2="669.4" y2="489.7" stroke="#333" stroke-width="1.5"/>
<text x="669.4" y="502.8" class="tk" text-anchor="middle">1.00</text>
<text class="xt" x="540.35" y="522.5" text-anchor="middle">Pasture Riparian</text>
<text class="xt" x="542.65" y="540.6" text-anchor="middle">Buffer Proportion</text>
<text class="ti" x="407.4" y="352.3">D) Riparian Pasture ×</text>
<text class="ti" x="438.6" y="371.7">River Length</text>
<text class="an" x="505.5" y="391.7" text-anchor="middle">Riparian pasture increased</text>
<text class="an" x="505.5" y="400.5" text-anchor="middle">turbidity more near shorter rivers</text>
<line x1="574.1" y1="394.9" x2="642.1" y2="410.38" stroke="#000" stroke-width="1.5"/>
<path d="M647.9 411.7 L641.11 413.41 L642.52 407.22 Z" fill="#000" stroke="#000" stroke-width="1" stroke-linejoin="miter"/>
<text class="lt" x="455.6" y="579.1">River Length</text>
<rect x="455" y="589.1" width="10.5" height="12.2" fill="rgb(80,180,195)" fill-opacity="0.2"/>
<line x1="455.5" y1="595.4" x2="464.7" y2="595.4" stroke="#4094BF" stroke-width="2.7"/>
<text class="ll" x="473.6" y="601.2">Short (10th percentile)</text>
<rect x="455" y="602.6" width="10.5" height="12.2" fill="rgb(80,80,168)" fill-opacity="0.2"/>
<line x1="455.5" y1="608.9" x2="464.7" y2="608.9" stroke="#2620A8" stroke-width="2.7"/>
<text class="ll" x="473.6" y="614.55">Medium (50th percentile)</text>
<rect x="455" y="616.1" width="10.5" height="12.2" fill="rgb(140,65,240)" fill-opacity="0.2"/>
<line x1="455.5" y1="622.4" x2="464.7" y2="622.4" stroke="#AE27FF" stroke-width="2.7"/>
<text class="ll" x="473.6" y="627.9">Long (90th percentile)</text>
</svg>
</body></html>
